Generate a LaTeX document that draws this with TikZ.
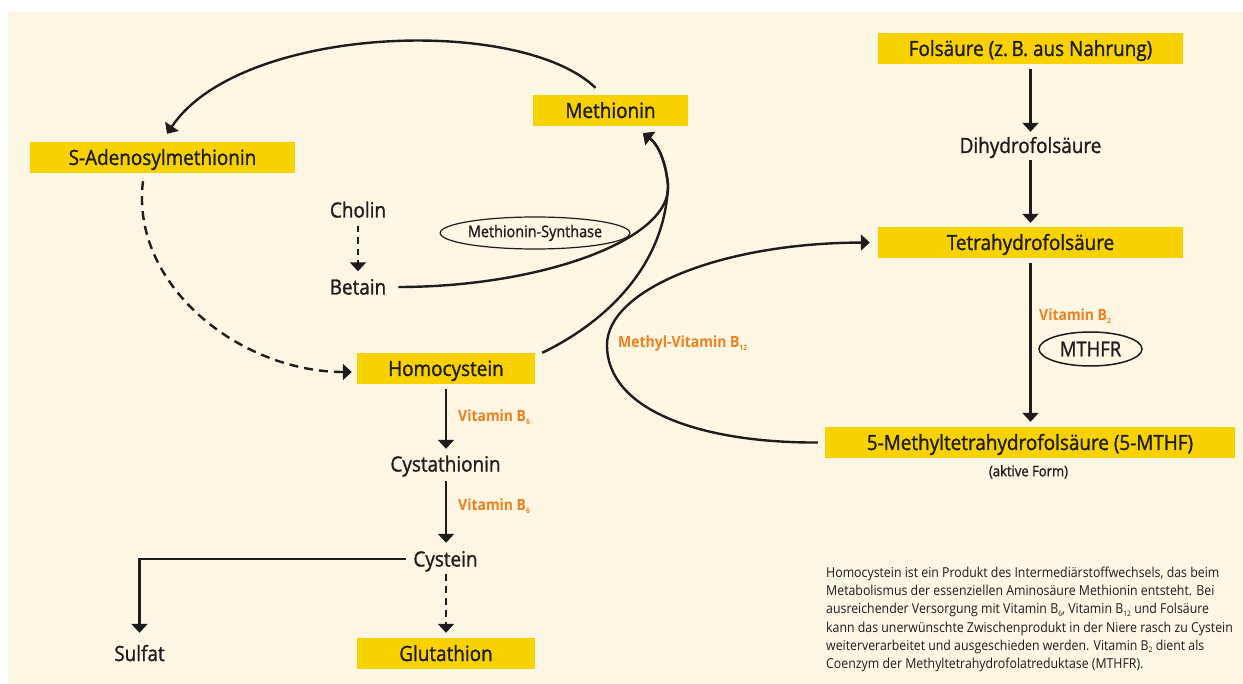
\documentclass[tikz,border=0pt]{standalone}
\usepackage{fontspec}
\setmainfont{Open Sans}[FakeStretch=0.9]
\newfontfamily\lblfont{Open Sans}[FakeStretch=0.9, FakeBold=1.2]
\usetikzlibrary{arrows.meta,shapes.geometric}
\definecolor{cream}{RGB}{253,246,227}
\definecolor{gold}{RGB}{247,209,0}
\definecolor{vitorange}{RGB}{240,128,30}
\definecolor{ink}{RGB}{30,28,28}
\newcommand{\mysub}[1]{\raisebox{-0.35ex}{\fontsize{7.5}{8}\selectfont #1}}
\tikzset{
  box/.style={fill=gold, inner sep=0pt, minimum height=31pt, text height=15pt, text depth=0pt,
              font=\lblfont\fontsize{21}{25}\selectfont, text=ink},
  lbl/.style={inner sep=0pt, text height=15pt, text depth=0pt, font=\lblfont\fontsize{21}{25}\selectfont, text=ink},
  vit/.style={inner sep=0pt, anchor=west, text height=11pt, text depth=0pt,
              font=\bfseries\fontsize{15.5}{18}\selectfont, text=vitorange},
  conn/.style={draw=ink, line width=2.4pt, -{Triangle[length=9pt,width=16pt]}},
  enzyme/.style={draw=ink, ellipse, inner sep=0pt, text=ink},
}
\begin{document}
\begin{tikzpicture}[x=1pt,y=-1pt]
\useasboundingbox (0,0) rectangle (1243,684);
\fill[white] (0,0) rectangle (1243,684);
\fill[cream] (8,12) rectangle (1243,684);

% boxes
\node[box, minimum width=265pt] (sam) at (162.5,157.5) {S-Adenosylmethionin};
\node[box, minimum width=155pt] (met) at (610.5,110.5) {Methionin};
\node[box, minimum width=178pt] (hcy) at (446,368.5) {Homocystein};
\node[box, minimum width=178pt] (glu) at (446,653.5) {Glutathion};
\node[box, minimum width=305pt] (fol) at (1030.5,48.5) {Folsäure (z.\,B. aus Nahrung)};
\node[box, minimum width=305pt] (thf) at (1030.5,242.5) {Tetrahydrofolsäure};
\node[box, minimum width=410pt] (mthf) at (1030,442.5) {5-Methyltetrahydrofolsäure (5-MTHF)};

% plain labels
\node[lbl] (dhf) at (1030.5,145.5) {Dihydrofolsäure};
\node[lbl] (cho) at (358,210) {Cholin};
\node[lbl] (bet) at (358,287) {Betain};
\node[lbl] (cysta) at (445.5,464) {Cystathionin};
\node[lbl] (cys) at (445.5,559) {Cystein};
\node[lbl] (sul) at (139.5,653.5) {Sulfat};
\node[inner sep=0pt, text height=10.5pt, text depth=0pt, font=\lblfont\fontsize{14.5}{17}\selectfont, text=ink] (akt) at (1028.5,471) {(aktive Form)};

% enzymes
\node[enzyme, line width=1.2pt, minimum width=174pt, minimum height=32pt, font=\lblfont\fontsize{16}{18}\selectfont] (ms) at (535,233) {Methionin-Synthase};
\node[enzyme, line width=1.5pt, minimum width=103pt, minimum height=34pt, font=\lblfont\fontsize{20.5}{24}\selectfont] (mthfr) at (1090.5,349) {MTHFR};

% vitamin labels
\node[vit] (vb12) at (618,342.5) {Methyl-Vitamin B\mysub{12}};
\node[vit] (vb6a) at (458,416.5) {Vitamin B\mysub{6}};
\node[vit] (vb6b) at (458,505) {Vitamin B\mysub{6}};
\node[vit] (vb2) at (1039,315.5) {Vitamin B\mysub{2}};

% paragraph
\node[anchor=north west, inner sep=0pt, align=left, text=ink, font=\fontsize{13.7}{18.3}\selectfont] (txt) at (826,566.5)
{Homocystein ist ein Produkt des Intermediärstoffwechsels, das beim\\
Metabolismus der essenziellen Aminosäure Methionin entsteht. Bei\\
ausreichender Versorgung mit Vitamin B\mysub{6}, Vitamin B\mysub{12} und Folsäure\\
kann das unerwünschte Zwischenprodukt in der Niere rasch zu Cystein\\
weiterverarbeitet und ausgeschieden werden. Vitamin B\mysub{2} dient als\\
Coenzym der Methyltetrahydrofolatreduktase (MTHFR).};

% coordinates
\coordinate (metin) at ([xshift=32.5pt,yshift=-7pt]met.south);
\coordinate (metout) at ([xshift=-15pt,yshift=7pt]met.north);
\coordinate (samin) at ([xshift=4.5pt,yshift=8pt]sam.north);
\coordinate (samout) at ([xshift=-19.5pt,yshift=-8pt]sam.south);
\coordinate (hcyin) at ([xshift=-5pt,yshift=-3.5pt]hcy.west);
\coordinate (hcyout) at ([xshift=7pt]hcy.north east);

% folate pathway
\draw[conn, shorten <=5pt, shorten >=6pt] (fol.south) -- (dhf.north);
\draw[conn, shorten <=7pt, shorten >=4pt] (dhf.south) -- (thf.north);
\draw[conn, shorten <=5pt, shorten >=5pt] (thf.south) -- (thf.south |- mthf.north);
\draw[conn, shorten <=7pt, shorten >=8pt] (mthf.west) .. controls (700,443) and (607,410) .. (607,345)
   .. controls (607,290) and (720,243) .. (thf.west);

% methionine cycle
\draw[conn] (metout) .. controls (520,15) and (240,25) .. (samin);
\draw[conn, dash pattern=on 9pt off 6pt] (samout) .. controls (130,285) and (240,372) .. (hcyin);
\draw[conn, shorten <=12pt] (bet.east) .. controls (540,287) and (672,240) .. (668,185)
   .. controls (665,155) and (655,142) .. (metin);
\draw[conn] (hcyout) .. controls (600,325) and (665,270) .. (668,185)
   .. controls (665,155) and (655,142) .. (metin);
\draw[conn, dash pattern=on 6.5pt off 5pt, shorten <=8pt, shorten >=8pt] (cho.south) -- (bet.north);

% transsulfuration
\draw[conn, shorten <=5pt, shorten >=7.5pt] (hcy.south) -- (hcy.south |- cysta.north);
\draw[conn, shorten <=9pt, shorten >=8.5pt] (hcy.south |- cysta.south) -- (hcy.south |- cys.north);
\draw[conn, dash pattern=on 7pt off 5pt, shorten <=7pt, shorten >=5pt] (hcy.south |- cys.south) -- (glu.north);
\draw[conn, shorten <=7pt, shorten >=13pt] (cys.west) -| (sul.north);
\end{tikzpicture}
\end{document}
